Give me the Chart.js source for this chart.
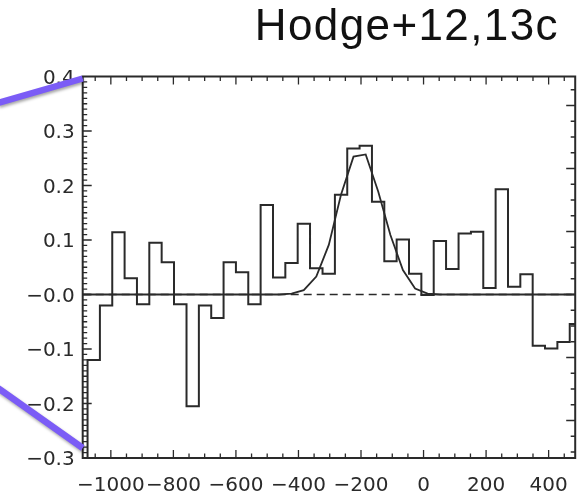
<!DOCTYPE html>
<html>
<head>
<meta charset="utf-8">
<script src="https://cdn.jsdelivr.net/npm/chart.js@4.4.1/dist/chart.umd.min.js"></script>
<style>
  body { margin: 0; background: #fff; }
  #wrap { position: relative; width: 584px; height: 497px; }
  #spec { position: absolute; left: 0; top: 0; }
  #title {
    position: absolute; right: 25px; top: 3px;
    font: 44px "Liberation Sans", Arial, sans-serif; line-height: 44px;
    letter-spacing: 1.4px; color: #111; white-space: nowrap;
  }
</style>
</head>
<body>
<div id="wrap">
  <canvas id="spec" width="584" height="497"></canvas>
  <div id="title">Hodge+12,13c</div>
</div>
<script>
// channel centres (km/s) and measured flux per channel
const velocity = [-1094, -1055, -1015, -976, -936, -897, -857, -818, -778, -738,
  -699, -659, -620, -580, -541, -501, -462, -422, -383, -343,
  -303, -264, -224, -185, -145, -106, -66, -27, 13, 52,
  92, 132, 171, 211, 250, 290, 329, 369, 408, 448, 487];
const flux = [-0.33, -0.12, -0.02, 0.114, 0.03, -0.018, 0.095, 0.059, -0.018, -0.205,
  -0.02, -0.043, 0.059, 0.041, -0.018, 0.164, 0.031, 0.058, 0.13, 0.048,
  0.038, 0.183, 0.268, 0.273, 0.170, 0.061, 0.101, 0.038, -0.001, 0.098,
  0.047, 0.112, 0.115, 0.012, 0.193, 0.014, 0.037, -0.094, -0.099, -0.087, -0.054];
// gaussian fit, read at the same channel centres
const gaussFit = [0, 0, 0, 0, 0, 0, 0, 0, 0, 0,
  0, 0, 0, 0, 0, 0, 0, 0.0015, 0.008, 0.033,
  0.091, 0.183, 0.253, 0.257, 0.189, 0.109, 0.045, 0.011, 0.0015, 0,
  0, 0, 0, 0, 0, 0, 0, 0, 0, 0, 0];

const xRange = [-1090, 485];
const yRange = [-0.3, 0.4];
const xTicks = [-1000, -800, -600, -400, -200, 0, 200, 400];
const xTickLabels = ['\u22121000', '\u2212800', '\u2212600', '\u2212400', '\u2212200', '0', '200', '400'];
const yTicks = [-0.3, -0.2, -0.1, 0, 0.1, 0.2, 0.3, 0.4];
const yTickLabels = ['\u22120.3', '\u22120.2', '\u22120.1', '\u22120.0', '0.1', '0.2', '0.3', '0.4'];

const ink = '#2a2a2a';
const tickFont = { family: '"DejaVu Sans", sans-serif', size: 20 };

// IDL style frame: box plus inward ticks on all four sides
const idlAxes = {
  id: 'idlAxes',
  afterDatasetsDraw(chart) {
    const { ctx, chartArea: a, scales } = chart;
    const x = scales.x, y = scales.y, y2 = scales.y2;
    ctx.save();
    ctx.strokeStyle = ink;
    ctx.lineWidth = 1.3;
    ctx.beginPath();
    for (let v = -1050; v <= 450; v += 50) {
      const px = x.getPixelForValue(v);
      const len = v % 200 === 0 ? 8 : 4.5;
      ctx.moveTo(px, a.bottom); ctx.lineTo(px, a.bottom - len);
      ctx.moveTo(px, a.top); ctx.lineTo(px, a.top + len);
    }
    for (let k = -29; k <= 39; k++) {
      const py = y.getPixelForValue(k / 100);
      const len = k % 10 === 0 ? 9 : 4.5;
      ctx.moveTo(a.left, py); ctx.lineTo(a.left + len, py);
    }
    for (let k = -10; k <= 13; k++) {
      const py = y2.getPixelForValue(k / 4);
      const len = k % 4 === 0 ? 9 : 4.5;
      ctx.moveTo(a.right, py); ctx.lineTo(a.right - len, py);
    }
    ctx.stroke();
    ctx.lineWidth = 2;
    ctx.strokeRect(a.left, a.top, a.right - a.left, a.bottom - a.top);
    ctx.restore();
  },
  afterDraw(chart) {
    // zoom-callout lines coming in from the left
    const { ctx, chartArea: a } = chart;
    ctx.save();
    ctx.strokeStyle = '#7b5cf6';
    ctx.lineWidth = 6.5;
    ctx.shadowColor = 'rgba(0,0,0,0.35)';
    ctx.shadowBlur = 3;
    ctx.shadowOffsetX = 1;
    ctx.shadowOffsetY = 2;
    ctx.beginPath();
    ctx.moveTo(-2, 103); ctx.lineTo(a.left, a.top + 2);
    ctx.moveTo(-2, 388); ctx.lineTo(a.left, a.bottom - 10);
    ctx.stroke();
    ctx.restore();
  }
};

new Chart(document.getElementById('spec'), {
  type: 'line',
  data: {
    datasets: [
      {
        label: 'zero',
        data: xRange.map(v => ({ x: v, y: 0 })),
        borderColor: ink, borderWidth: 1.3, borderDash: [8, 5],
        pointRadius: 0
      },
      {
        label: 'fit',
        data: velocity.map((v, i) => ({ x: v, y: gaussFit[i] })),
        borderColor: ink, borderWidth: 1.8,
        pointRadius: 0, tension: 0
      },
      {
        label: 'spectrum',
        data: velocity.map((v, i) => ({ x: v, y: flux[i] })),
        borderColor: ink, borderWidth: 2,
        stepped: 'middle', pointRadius: 0
      }
    ]
  },
  options: {
    responsive: false,
    animation: false,
    devicePixelRatio: 1,
    layout: { padding: { top: 76.5, right: 5.3, left: 0, bottom: 0 } },
    plugins: { legend: { display: false }, tooltip: { enabled: false } },
    scales: {
      x: {
        type: 'linear', min: xRange[0], max: xRange[1],
        grid: { display: false, drawTicks: false }, border: { display: false },
        afterBuildTicks: s => { s.ticks = xTicks.map(v => ({ value: v })); },
        afterFit: s => { s.height = 39; },
        ticks: {
          font: tickFont, color: ink, padding: 16, autoSkip: false, maxRotation: 0,
          callback: v => xTickLabels[xTicks.indexOf(v)]
        }
      },
      y: {
        type: 'linear', min: yRange[0], max: yRange[1],
        grid: { display: false, drawTicks: false }, border: { display: false },
        afterBuildTicks: s => { s.ticks = yTicks.map(v => ({ value: v })); },
        afterFit: s => { s.width = 82.7; },
        ticks: {
          font: tickFont, color: ink, padding: 8, autoSkip: false, labelOffset: 2,
          callback: v => yTickLabels[yTicks.indexOf(v)]
        }
      },
      y2: { type: 'linear', position: 'right', display: false, min: -2.595, max: 3.46 }
    }
  },
  plugins: [idlAxes]
});
</script>
</body>
</html>
